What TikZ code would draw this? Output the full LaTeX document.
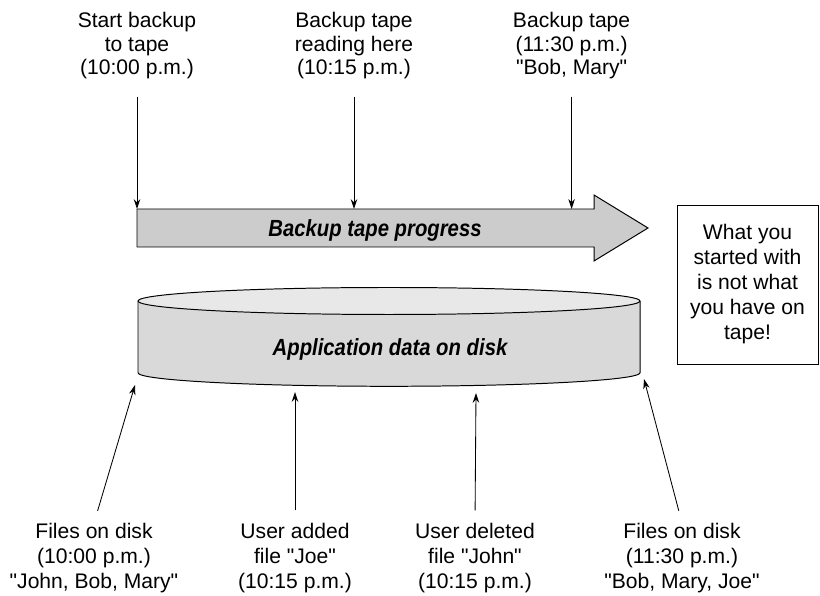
\documentclass[tikz,border=0pt]{standalone}
\usepackage{fontspec}
\setmainfont{Liberation Sans}
\newfontfamily\condsans[FakeStretch=0.87]{Liberation Sans}
\usetikzlibrary{arrows.meta}

\begin{document}
\begin{tikzpicture}[>={Stealth[length=7pt,width=4.6pt]}, line width=0.7pt]
    \useasboundingbox (0,0) rectangle (20.5,14.9);
    \tikzset{
        lbl/.style={align=center, inner sep=0pt, font=\fontsize{15pt}{16.8pt}\selectfont},
        lowlbl/.style={lbl, anchor=north, font=\fontsize{15pt}{17.8pt}\selectfont},
        title/.style={inner sep=0pt, anchor=base, font=\condsans\bfseries\itshape\fontsize{16.6pt}{20pt}\selectfont},
        pointer/.style={->, line width=0.6pt}
    }

    % Backup tape progress arrow
    \filldraw[fill=gray!40, line join=miter] (3.425,9.675) -- (14.85,9.675) -- (14.85,10.025) -- (16.2,9.2)
        -- (14.85,8.375) -- (14.85,8.725) -- (3.425,8.725) -- cycle;
    \node[title] (prog) at (9.375,8.98) {Backup tape progress};

    % Disk cylinder
    \filldraw[fill=gray!30] (3.45,7.375) -- (3.45,5.58)
        arc[start angle=180, end angle=360, x radius=6.275, y radius=0.3375] -- (16.0,7.375);
    \filldraw[fill=gray!18] (9.725,7.375) ellipse[x radius=6.275, y radius=0.3375];
    \node[title] (disk) at (9.75,6.0) {Application data on disk};

    % Note box
    \node[draw, lbl, font=\fontsize{15pt}{17.8pt}\selectfont, minimum width=3.525cm, minimum height=3.975cm]
        (note) at (18.6875,7.7875) {What you\\started with\\is not what\\you have on\\tape!};

    % Top labels
    \node[lbl, anchor=north] (start) at (3.425,14.6) {Start backup\\to tape\\(10:00 p.m.)};
    \node[lbl, anchor=north] (reading) at (8.85,14.6) {Backup tape\\reading here\\(10:15 p.m.)};
    \node[lbl, anchor=north] (done) at (14.29,14.6) {Backup tape\\(11:30 p.m.)\\\textquotedbl Bob, Mary\textquotedbl};

    % Tape positions
    \coordinate (t1) at (3.425,9.675);
    \coordinate (t2) at (8.85,9.675);
    \coordinate (t3) at (14.29,9.675);
    \foreach \lab/\pos in {start/t1, reading/t2, done/t3}
        \draw[pointer, shorten <=12pt] (\lab.south) -- (\pos);

    % Bottom labels
    \node[lowlbl] (before) at (2.35,1.825) {Files on disk\\(10:00 p.m.)\\\textquotedbl John, Bob, Mary\textquotedbl};
    \node[lowlbl] (added) at (7.375,1.825) {User added\\file \textquotedbl Joe\textquotedbl\\(10:15 p.m.)};
    \node[lowlbl] (deleted) at (11.875,1.825) {User deleted\\file \textquotedbl John\textquotedbl\\(10:15 p.m.)};
    \node[lowlbl] (after) at (17.05,1.825) {Files on disk\\(11:30 p.m.)\\\textquotedbl Bob, Mary, Joe\textquotedbl};

    % Disk positions
    \coordinate (d1) at (3.375,5.275);
    \coordinate (d2) at (7.375,5.1);
    \coordinate (d3) at (11.9,5.075);
    \coordinate (d4) at (16.1,5.425);
    \foreach \lab/\pos in {before/d1, added/d2, deleted/d3, after/d4}
        \draw[pointer, shorten <=9pt] (\lab.north) -- (\pos);
\end{tikzpicture}
\end{document}
